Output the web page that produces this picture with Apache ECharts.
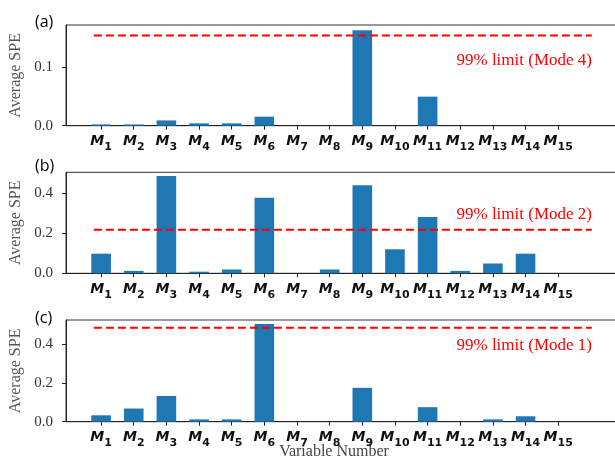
<!DOCTYPE html>
<html><head><meta charset="utf-8">
<script src="https://cdn.jsdelivr.net/npm/echarts@6/dist/echarts.min.js"></script>
<style>html,body{margin:0;padding:0;background:#fff}#c{width:615px;height:467px}</style>
</head><body><div id="c"></div>
<script>
// ---- data ----
const varNumbers = ['1','2','3','4','5','6','7','8','9','10','11','12','13','14','15'];
const speModeA = [0.0022, 0.0022, 0.009, 0.004, 0.004, 0.0154, 0, 0, 0.1626, 0, 0.0495, 0, 0, 0, 0];
const speModeB = [0.098, 0.012, 0.486, 0.008, 0.019, 0.378, 0, 0.019, 0.44, 0.12, 0.282, 0.012, 0.049, 0.098, 0];
const speModeC = [0.033, 0.068, 0.133, 0.012, 0.012, 0.505, 0, 0, 0.175, 0, 0.075, 0, 0.012, 0.028, 0];
const limitValues = [0.1536, 0.218, 0.4856];
const limitLabels = ['99% limit (Mode 4)', '99% limit (Mode 2)', '99% limit (Mode 1)'];
const panelTags = ['(a)', '(b)', '(c)'];
const yTickValues = [[0, 0.1], [0, 0.2, 0.4], [0, 0.2, 0.4]];
const yMaxValues = [0.1716, 0.505, 0.5255];
const limitSpan = [-0.22, 15.03];
const xAxisTitle = 'Variable Number';
const yAxisTitle = 'Average SPE';

// ---- layout ----
const seriesData = [speModeA, speModeB, speModeC];
const gridTops = [25, 172.3, 320];
const gridHeights = [100.7, 101, 101.7];
const tagY = [22.5, 166, 318];
const limitLabelY = [61, 214.3, 345.7];
const X_MIN = -1.075, X_MAX = 17, PX_PER_UNIT = 32.65;
const gridLeft = 66;
const gridWidth = (X_MAX - X_MIN) * PX_PER_UNIT;
const xIdx = varNumbers.map((_, i) => i);

const grids = [], xAxes = [], yAxes = [], series = [], graphics = [];
for (let k = 0; k < 3; k++) {
  grids.push({left: gridLeft, top: gridTops[k], width: gridWidth, height: gridHeights[k],
    outerBoundsMode: 'none',
    show: true, borderColor: '#333', borderWidth: 1, backgroundColor: 'transparent', containLabel: false});
  xAxes.push({
    type: 'value', gridIndex: k, min: X_MIN, max: X_MAX,
    axisLine: {show: true, onZero: false, lineStyle: {color: '#222', width: 1}},
    axisTick: {show: true, length: 4, inside: false, customValues: xIdx, lineStyle: {color: '#222'}},
    splitLine: {show: false},
    axisLabel: {
      show: true, margin: 9, customValues: xIdx,
      formatter: v => '{m|M}{s|' + varNumbers[Math.round(v)] + '}',
      rich: {
        m: {fontFamily: 'DejaVu Sans', fontWeight: 'bold', fontStyle: 'italic', fontSize: 14, color: '#111', lineHeight: 18, verticalAlign: 'top'},
        s: {fontFamily: 'DejaVu Sans', fontWeight: 'bold', fontSize: 11, color: '#111', lineHeight: 10, verticalAlign: 'top', padding: [7, 0, 0, 0]}
      }
    }
  });
  yAxes.push({
    type: 'value', gridIndex: k, min: 0, max: yMaxValues[k],
    name: yAxisTitle, nameLocation: 'middle', nameGap: 38,
    nameTextStyle: {fontFamily: 'Liberation Serif', fontSize: 16, color: '#555'},
    axisLine: {show: true, onZero: false, lineStyle: {color: '#222', width: 1}},
    axisTick: {show: true, length: 4, customValues: yTickValues[k], lineStyle: {color: '#222'}},
    splitLine: {show: false},
    axisLabel: {customValues: yTickValues[k], margin: 13, formatter: v => v.toFixed(1),
      fontFamily: 'Liberation Serif', fontSize: 15, color: '#333'}
  });
  series.push({
    type: 'bar', xAxisIndex: k, yAxisIndex: k, barWidth: 19.6,
    itemStyle: {color: '#1f77b4'},
    data: seriesData[k].map((v, i) => [i, v]), silent: true
  });
  series.push({
    type: 'line', xAxisIndex: k, yAxisIndex: k, symbol: 'none', silent: true,
    lineStyle: {color: '#ff0000', width: 2, type: [8, 4]},
    data: [[limitSpan[0], limitValues[k]], [limitSpan[1], limitValues[k]]]
  });
  graphics.push({type: 'text', x: 35, y: tagY[k], style: {text: panelTags[k], fill: '#000',
    font: '16px "Open Sans"', align: 'left', verticalAlign: 'middle', textAlign: 'left', textVerticalAlign: 'middle'}});
  graphics.push({type: 'text', x: 592, y: limitLabelY[k], style: {text: limitLabels[k], fill: '#ff0000',
    font: '17px "Liberation Serif"', align: 'right', verticalAlign: 'middle', textAlign: 'right', textVerticalAlign: 'middle'}});
}
graphics.push({type: 'text', x: 334, y: 451.5, style: {text: xAxisTitle, fill: '#444',
  font: '16px "Liberation Serif"', align: 'center', verticalAlign: 'middle', textAlign: 'center', textVerticalAlign: 'middle'}});

const chart = echarts.init(document.getElementById('c'), null, {renderer: 'canvas'});
chart.setOption({animation: false, backgroundColor: '#fff', grid: grids, xAxis: xAxes, yAxis: yAxes, series: series, graphic: graphics});
</script></body></html>
